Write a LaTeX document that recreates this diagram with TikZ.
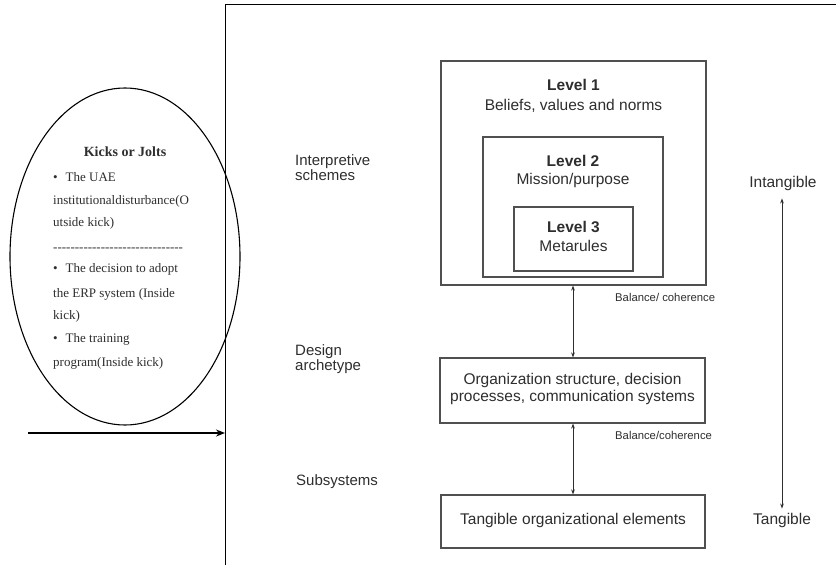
\documentclass[tikz,border=0pt]{standalone}
\usepackage{fontspec}
\setmainfont{Liberation Sans}
\newfontfamily\serifT{Liberation Serif}
\usetikzlibrary{shapes.geometric,arrows.meta}
\definecolor{ink}{HTML}{2E2E2E}
\definecolor{boxline}{HTML}{505050}
\begin{document}
\begin{tikzpicture}[x=1pt,y=-1pt,
  frameline/.style={draw=black, line width=1.8pt},
  boxnode/.style={draw=boxline, line width=1.1pt, rectangle, inner sep=0pt},
  etxt/.style={text=ink, inner sep=0pt, font=\serifT\fontsize{13}{15}\selectfont, anchor=base west},
  stxt/.style={text=ink, inner sep=0pt, font=\fontsize{15.5}{18}\selectfont, align=center},
  lbl/.style={text=ink, inner sep=0pt, font=\fontsize{15}{15}\selectfont, align=left, anchor=west},
  small/.style={text=ink, inner sep=0pt, font=\fontsize{11.3}{13}\selectfont, anchor=west},
  dbl/.style={draw=ink, line width=0.9pt, {Stealth[length=5pt,width=3.6pt]}-{Stealth[length=5pt,width=3.6pt]}}
]
\useasboundingbox (0,0) rectangle (836,565);
\fill[white] (0,0) rectangle (836,565);

% open frame
\coordinate (ftr) at (836,4.5);
\coordinate (ftl) at (225.5,4.5);
\coordinate (fbl) at (225.5,565);
\draw[frameline] (ftr) -- (ftl) -- (fbl);

% ellipse
\node[draw=black, line width=1.1pt, ellipse, minimum width=230pt, minimum height=337pt, inner sep=0pt] (kicks) at (125,256.5) {};
\node[text=ink, inner sep=0pt, font=\serifT\bfseries\fontsize{14}{16}\selectfont] (khead) at (125,152) {Kicks or Jolts};
\node[etxt] (k1) at (53,181.5) {\textbullet\hspace{8pt}The UAE};
\node[etxt] (k2) at (53,204.5) {institutionaldisturbance(O};
\node[etxt] (k3) at (53,226.5) {utside kick)};
\node[etxt] (k4) at (53,251.5) {-{}-{}-{}-{}-{}-{}-{}-{}-{}-{}-{}-{}-{}-{}-{}-{}-{}-{}-{}-{}-{}-{}-{}-{}-{}-{}-{}-{}-{}-};
\node[etxt] (k5) at (53,272.5) {\textbullet\hspace{8pt}The decision to adopt};
\node[etxt] (k6) at (53,297.5) {the ERP system (Inside};
\node[etxt] (k7) at (53,319.5) {kick)};
\node[etxt] (k8) at (53,342.5) {\textbullet\hspace{8pt}The training};
\node[etxt] (k9) at (53,366.5) {program(Inside kick)};

% entry arrow
\coordinate (ein) at (28,433);
\coordinate (eout) at (225,433);
\draw[draw=black, line width=1.6pt, -{Stealth[length=9pt,width=7pt]}] (ein) -- (eout);

% left labels
\node[lbl] (interp) at (295,167.5) {Interpretive\\schemes};
\node[lbl] (design) at (295,359.5) {Design\\archetype};
\node[lbl] (subsys) at (296,482) {Subsystems};

% level boxes
\node[boxnode, minimum width=265pt, minimum height=224pt] (lev1) at (573.5,173) {};
\node[boxnode, minimum width=180pt, minimum height=140pt] (lev2) at (573,207) {};
\node[boxnode, minimum width=119pt, minimum height=64pt] (lev3) at (573.5,239) {};
\node[stxt, font=\fontsize{15.5}{20}\selectfont] (lev1t) at (573.5,96) {\textbf{Level 1}\\Beliefs, values and norms};
\node[stxt, font=\fontsize{15.5}{18}\selectfont] (lev2t) at (573,171) {\textbf{Level 2}\\Mission/purpose};
\node[stxt, font=\fontsize{15.5}{19}\selectfont] (lev3t) at (573.5,236.5) {\textbf{Level 3}\\Metarules};

% middle box
\node[boxnode, minimum width=265pt, minimum height=65pt] (mid) at (572.5,390.5) {};
\node[stxt, font=\fontsize{15.5}{17}\selectfont] (midt) at (572.5,388.5) {Organization structure, decision\\processes, communication systems};

% bottom box
\node[boxnode, minimum width=264pt, minimum height=53pt] (bot) at (573,521.5) {};
\node[stxt] (bott) at (573,520) {Tangible organizational elements};

% balance arrows
\draw[dbl] (lev1.south -| 573,0) -- (mid.north -| 573,0);
\draw[dbl] (mid.south -| 573,0) -- (bot.north -| 573,0);
\node[small] (bal1) at (615,297) {Balance/ coherence};
\node[small] (bal2) at (615,435) {Balance/coherence};

% intangible / tangible
\node[stxt] (intang) at (783,183) {Intangible};
\node[stxt] (tang) at (782,520) {Tangible};
\draw[dbl, shorten <=8pt, shorten >=4pt] (intang.south -| 782,0) -- (tang.north -| 782,0);
\end{tikzpicture}
\end{document}
